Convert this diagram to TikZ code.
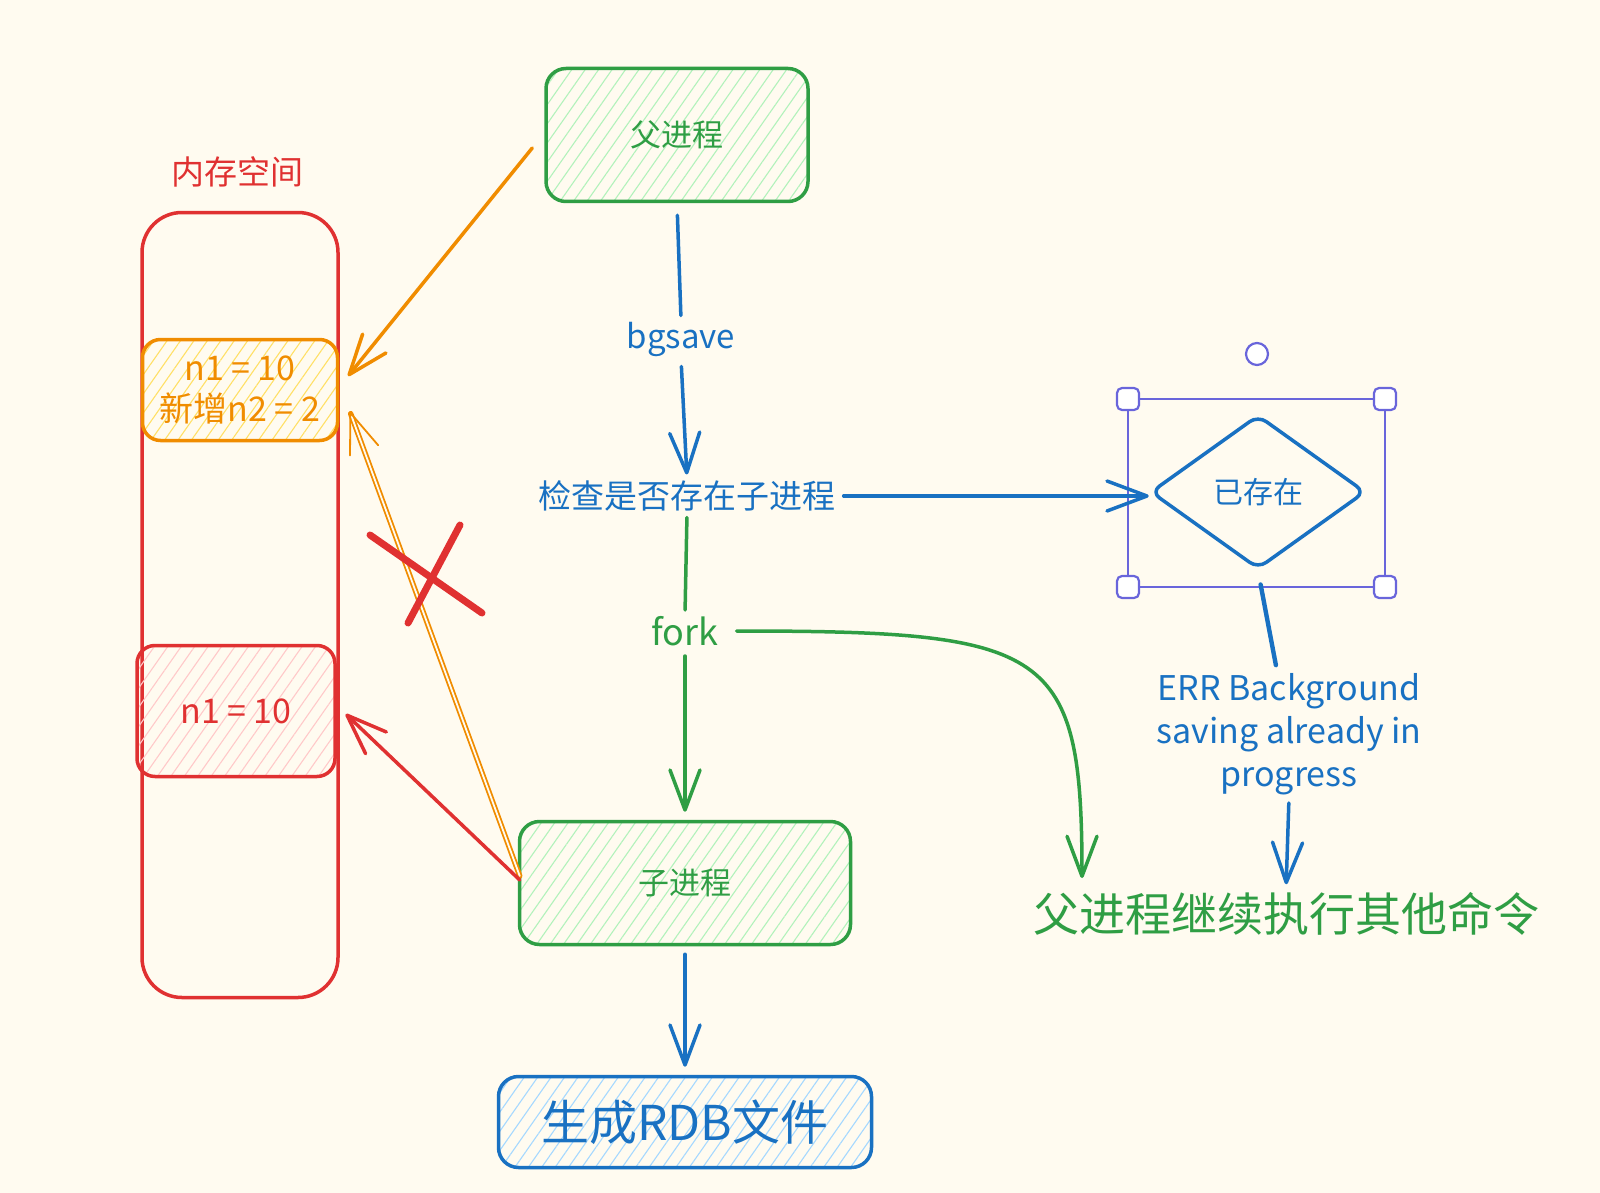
\documentclass[tikz,border=0pt]{standalone}
\usepackage{fontspec}
\setmainfont{Noto Sans CJK SC}
\usetikzlibrary{arrows.meta,patterns.meta,shapes.geometric}

\definecolor{sfondo}{HTML}{FFFBF0}
\definecolor{verde}{HTML}{2F9E44}
\definecolor{verdechiaro}{HTML}{B2F2BB}
\definecolor{blu}{HTML}{1971C2}
\definecolor{bluchiaro}{HTML}{A5D8FF}
\definecolor{rosso}{HTML}{E03131}
\definecolor{rossochiaro}{HTML}{FFC9C9}
\definecolor{arancio}{HTML}{F08C00}
\definecolor{giallo}{HTML}{FFE066}
\definecolor{viola}{HTML}{6965DB}

\begin{document}
\begin{tikzpicture}[x=1pt, y=-1pt,
			tratto/.style={line width=3.5pt, line cap=round, line join=round},
			freccia/.style={tratto, -{Straight Barb[length=40pt, width=30pt, round]}},
			tratteggio/.style={pattern={Lines[angle=55, distance=11pt, line width=1.1pt]}},
			processo/.style={tratto, draw=verde, rounded corners=20pt, tratteggio, pattern color=verdechiaro,
				text=verde, font=\fontsize{31}{36}\selectfont, inner sep=0pt},
			valore/.style={tratto, rounded corners=18pt, tratteggio, inner sep=0pt, align=center,
				font=\fontsize{34}{41}\selectfont},
			memoria/.style={tratto, draw=rosso, rounded corners=40pt, minimum width=196pt, minimum height=785pt},
			decisione/.style={diamond, tratto, draw=blu, rounded corners=10pt, minimum width=215pt,
				minimum height=154pt, inner sep=0pt, text=blu, font=\fontsize{30}{36}\selectfont},
			etichetta/.style={font=\fontsize{33}{38}\selectfont, inner sep=2pt},
			grande/.style={font=\fontsize{46}{52}\selectfont},
			selezione/.style={line width=2.2pt, viola},
			maniglia/.style={line width=2.2pt, draw=viola, fill=white, rounded corners=5pt},
			croce/.style={line width=7pt, line cap=round, rosso},
			]
			
			% sfondo e riquadro
			\fill[sfondo] (0,0) rectangle (1600,1193);
			\useasboundingbox (0,0) rectangle (1600,1193);
			
			%%═══ MEMORIA ═════════════════════════════════════════════════
			\node[etichetta, text=rosso] (memlab) at (237,172) {内存空间};
			\node[memoria] (mem) at (240,605) {};
			\node[valore, draw=arancio, pattern color=giallo, text=arancio,
				minimum width=195pt, minimum height=101pt] (nuovo) at (240,390) {n1 = 10\\新增n2 = 2};
			\node[valore, draw=rosso, pattern color=rossochiaro, text=rosso,
				minimum width=198pt, minimum height=131pt] (vecchio) at (236,711) {n1 = 10};
			
			%%═══ FLUSSO PRINCIPALE ═══════════════════════════════════════
			\node[processo, minimum width=262pt, minimum height=133pt] (padre) at (677,135) {父进程};
			\node[etichetta, text=blu] (bgsave) at (681,339) {bgsave};
			\node[etichetta, text=blu] (controllo) at (687,496) {检查是否存在子进程};
			\node[etichetta, text=verde, font=\fontsize{36}{40}\selectfont] (fork) at (685,631) {fork};
			\node[processo, minimum width=331pt, minimum height=123pt] (figlio) at (685,883) {子进程};
			\node[processo, font=\fontsize{48}{54}\selectfont, draw=blu, pattern color=bluchiaro, text=blu,
				minimum width=373pt, minimum height=91pt] (rdb) at (685,1122) {生成RDB文件};
			
			%%═══ RAMO "GIA' ESISTE" ══════════════════════════════════════
			\node[decisione] (esiste) at (1258,492) {已存在};
			\node[etichetta, text=blu, align=center, font=\fontsize{34}{43}\selectfont] (errore) at (1289,734)
				{ERR Background\\saving already in\\progress};
			\node[etichetta, grande, text=verde] (continua) at (1286,914) {父进程继续执行其他命令};
			\coordinate (fine) at (1082,878);
			
			% riquadro di selezione attorno al rombo
			\draw[selezione] (1128,399) rectangle (1385,587);
			\foreach \x/\y in {1128/399, 1385/399, 1128/587, 1385/587}
				\draw[maniglia] (\x-11,\y-11) rectangle ++(22,22);
			\draw[selezione, fill=white] (1257,354) circle (11pt);
			
			%%═══ CONNESSIONI ═════════════════════════════════════════════
			\draw[tratto, blu, shorten <=12pt, shorten >=4pt] (padre.south) -- (bgsave.north);
			\draw[freccia, blu, shorten <=8pt, shorten >=4pt] (bgsave.south) -- (controllo.north);
			\draw[freccia, blu, shorten <=6pt] (controllo.east) -- (controllo.east -| esiste.west);
			\draw[tratto, verde, shorten <=4pt, shorten >=4pt] (controllo.south) -- (fork.north);
			\draw[freccia, verde, shorten <=8pt, shorten >=8pt] (fork.south) -- (figlio.north);
			\draw[freccia, verde, shorten <=16pt] (fork.east) .. controls +(330,0) and +(0,-230) .. (fine);
			\draw[tratto, blu, line width=4.4pt, shorten <=14pt, shorten >=6pt]
				(esiste.south) -- ([xshift=-12pt]errore.north);
			\draw[freccia, blu, shorten <=6pt, shorten >=6pt] (errore.south) -- (continua.north);
			\draw[freccia, blu, shorten <=8pt, shorten >=8pt] (figlio.south) -- (rdb.north);
			
			% scritture verso la memoria
			\draw[freccia, arancio] ([shift={(-12,13)}]padre.west) -- ([shift={(10,-14)}]nuovo.east);
			\draw[freccia, arancio, line width=1.8pt, double=sfondo, double distance=1.8pt]
				([shift={(2,-7)}]figlio.west) -- ([shift={(12,22)}]nuovo.east);
			\draw[freccia, rosso] ([shift={(2,-3)}]figlio.west) -- ([shift={(9,3)}]vecchio.east);
			
			% scrittura impedita
			\draw[croce] (370,535) -- (482,613);
			\draw[croce] (408,623) -- (460,525);
			
\end{tikzpicture}
\end{document}
